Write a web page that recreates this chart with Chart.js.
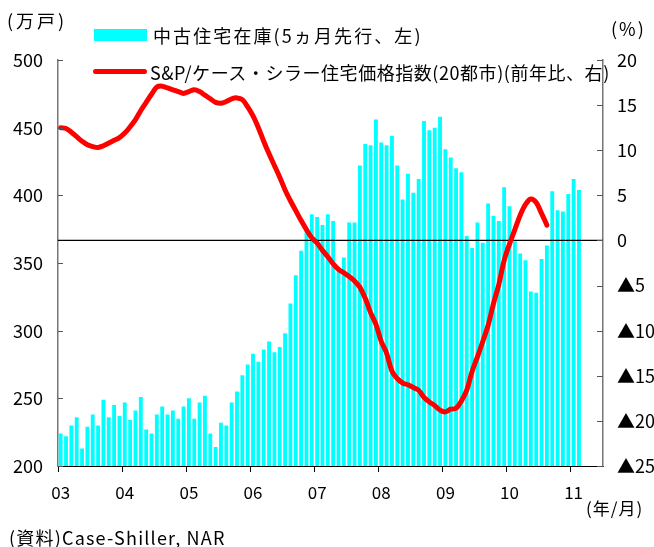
<!DOCTYPE html>
<html>
<head>
<meta charset="utf-8">
<script src="https://cdn.jsdelivr.net/npm/chart.js@4/dist/chart.umd.min.js"></script>
<style>
  body { margin: 0; background: #fff; }
  #wrap { position: relative; width: 654px; height: 547px; font-family: 'Noto Sans CJK JP', 'Liberation Sans', sans-serif; color: #000; }
  #wrap canvas { position: absolute; left: 0; top: 0; }
  .txt { position: absolute; white-space: nowrap; font-size: 17px; line-height: 1; }
  .swatch { position: absolute; }
</style>
</head>
<body>
<div id="wrap">
  <canvas id="chart" width="654" height="547"></canvas>
  <div class="txt" style="left:7px; top:11px; font-size:18px; letter-spacing:3px;">(万戸)</div>
  <div class="txt" style="left:611px; top:19px; font-size:18px; letter-spacing:2px;">(%)</div>
  <div class="txt" style="left:586px; top:499px; font-size:17px; letter-spacing:1px;">(年/月)</div>
  <div class="txt" style="left:9px; top:528px; font-size:18px; letter-spacing:1.2px;">(資料)Case-Shiller, NAR</div>
  <div id="legend"></div>
</div>
<script>
// x axis: monthly, Jan 2003 .. Jun 2011
const years = ['03', '04', '05', '06', '07', '08', '09', '10', '11'];
const categories = [];
years.forEach((y, i) => {
  const n = i === years.length - 1 ? 6 : 12;
  for (let m = 1; m <= n; m++) categories.push(y + '/' + m);
});

// 中古住宅在庫 (万戸), shifted 5 months ahead
const inventory = [
  224, 222, 230, 236, 213, 229, 238, 230, 249, 236, 245, 237,
  247, 234, 241, 251, 227, 224, 238, 244, 238, 241, 235, 244,
  250, 235, 247, 252, 224, 214, 232, 230, 247, 255, 267, 275,
  283, 277, 286, 292, 284, 288, 298, 320, 341, 359, 374, 386,
  384, 378, 386, 381, 345, 354, 380, 380, 422, 438, 437, 456,
  439, 437, 444, 422, 397, 416, 402, 412, 455, 448, 450, 458,
  434, 428, 420, 417, 370, 361, 380, 365, 394, 385, 381, 406,
  392, 366, 357, 352, 329, 328, 353, 363, 403, 389, 388, 401,
  412, 404
];

// S&P/Case-Shiller 20 city, y/y %
const priceYoY = [
  12.5, 12.4, 12.0, 11.5, 11.0, 10.6, 10.4, 10.3, 10.5, 10.8, 11.1, 11.4,
  11.9, 12.6, 13.4, 14.4, 15.3, 16.2, 17.0, 17.1, 16.9, 16.7, 16.5, 16.3,
  16.5, 16.7, 16.5, 16.1, 15.7, 15.3, 15.2, 15.4, 15.7, 15.8, 15.6, 14.8,
  13.8, 12.5, 11.0, 9.6, 8.3, 7.0, 5.6, 4.4, 3.3, 2.2, 1.2, 0.3,
  -0.3, -1.1, -1.8, -2.6, -3.2, -3.6, -4.0, -4.5, -5.2, -6.4, -8.0, -9.3,
  -11.2, -12.5, -14.5, -15.3, -15.8, -16.0, -16.3, -16.6, -17.4, -17.9, -18.3, -18.8,
  -19.0, -18.7, -18.6, -17.8, -16.6, -14.5, -12.9, -11.2, -9.4, -7.0, -4.9, -2.2,
  -0.4, 1.2, 2.8, 4.0, 4.6, 4.2, 3.0, 1.7
];

const leftTicks = [200, 250, 300, 350, 400, 450, 500];
const rightTicks = [-25, -20, -15, -10, -5, 0, 5, 10, 15, 20];

const FONT = "'Noto Sans CJK JP', 'Liberation Sans', sans-serif";

// zero line over the bars, inward tick marks on both value axes
const overlay = {
  id: 'overlay',
  afterDatasetDraw(chart, args) {
    if (args.meta.type !== 'bar') return;
    const ctx = chart.ctx, a = chart.chartArea;
    const y0 = chart.scales.y1.getPixelForValue(0);
    ctx.save();
    ctx.strokeStyle = '#000';
    ctx.lineWidth = 1.2;
    ctx.beginPath();
    ctx.moveTo(a.left, y0);
    ctx.lineTo(a.right, y0);
    ctx.stroke();
    ctx.restore();
  },
  afterDraw(chart) {
    const ctx = chart.ctx, a = chart.chartArea;
    ctx.save();
    ctx.strokeStyle = '#555';
    ctx.lineWidth = 1;
    ctx.beginPath();
    leftTicks.forEach(v => {
      const y = Math.round(chart.scales.y.getPixelForValue(v)) + 0.5;
      ctx.moveTo(a.left, y);
      ctx.lineTo(a.left + 5, y);
    });
    rightTicks.forEach(v => {
      const y = Math.round(chart.scales.y1.getPixelForValue(v)) + 0.5;
      ctx.moveTo(a.right - 6, y);
      ctx.lineTo(a.right, y);
    });
    ctx.stroke();
    ctx.restore();
  }
};

const chart = new Chart(document.getElementById('chart'), {
  type: 'bar',
  data: {
    labels: categories,
    datasets: [
      {
        type: 'line',
        label: 'S&P/ケース・シラー住宅価格指数(20都市)(前年比、右)',
        data: priceYoY,
        yAxisID: 'y1',
        borderColor: '#ff0000',
        backgroundColor: '#ff0000',
        borderWidth: 5,
        pointRadius: 0,
        tension: 0.35,
        borderCapStyle: 'round',
        borderJoinStyle: 'round',
        fill: false
      },
      {
        type: 'bar',
        label: '中古住宅在庫(5ヵ月先行、左)',
        data: inventory,
        yAxisID: 'y',
        backgroundColor: '#00ffff',
        barPercentage: 0.72,
        categoryPercentage: 1
      }
    ]
  },
  options: {
    responsive: false,
    animation: false,
    layout: { padding: { top: 60, left: 0, right: 0, bottom: 0 } },
    plugins: { legend: { display: false }, tooltip: { enabled: false } },
    scales: {
      x: {
        offset: true,
        afterFit: s => { s.height = 81; },
        grid: {
          offset: true,
          drawOnChartArea: false,
          drawTicks: true,
          tickLength: 6,
          color: c => (c.index % 12 === 0 ? '#000' : 'rgba(0,0,0,0)')
        },
        border: { color: '#000', width: 1 },
        ticks: {
          autoSkip: false,
          maxRotation: 0,
          padding: 10,
          color: '#000',
          font: { family: FONT, size: 17 },
          callback: (v, i) => {
            const c = categories[i];
            return c.endsWith('/1') ? c.split('/')[0] : '';
          }
        }
      },
      y: {
        position: 'left',
        min: 200,
        max: 500,
        afterFit: s => { s.width = 58; },
        grid: { display: false, drawTicks: false },
        border: { color: '#777', width: 1.5 },
        ticks: {
          stepSize: 50,
          padding: 15,
          color: '#000',
          font: { family: FONT, size: 18 }
        }
      },
      y1: {
        position: 'right',
        min: -25,
        max: 20,
        afterFit: s => { s.width = 51; },
        grid: { display: false, drawTicks: false },
        border: { color: '#777', width: 1.5 },
        ticks: {
          stepSize: 5,
          padding: 14,
          color: '#000',
          font: { family: FONT, size: 18 },
          callback: v => (v < 0 ? '▲' + Math.abs(v) : String(v))
        }
      }
    }
  },
  plugins: [overlay]
});

// legend built from the datasets
const legend = document.getElementById('legend');
const bars = chart.data.datasets[1], line = chart.data.datasets[0];
legend.innerHTML =
  '<div class="swatch" style="left:94px; top:29px; width:53px; height:12px; background:' + bars.backgroundColor + '"></div>' +
  '<div class="txt" style="left:153px; top:26px; font-size:18px; letter-spacing:2.1px;">' + bars.label + '</div>' +
  '<div class="swatch" style="left:93px; top:69px; width:54px; height:5px; border-radius:3px; background:' + line.borderColor + '"></div>' +
  '<div class="txt" style="left:150px; top:63px; font-size:18px; letter-spacing:0.55px;">' + line.label + '</div>';
</script>
</body>
</html>
